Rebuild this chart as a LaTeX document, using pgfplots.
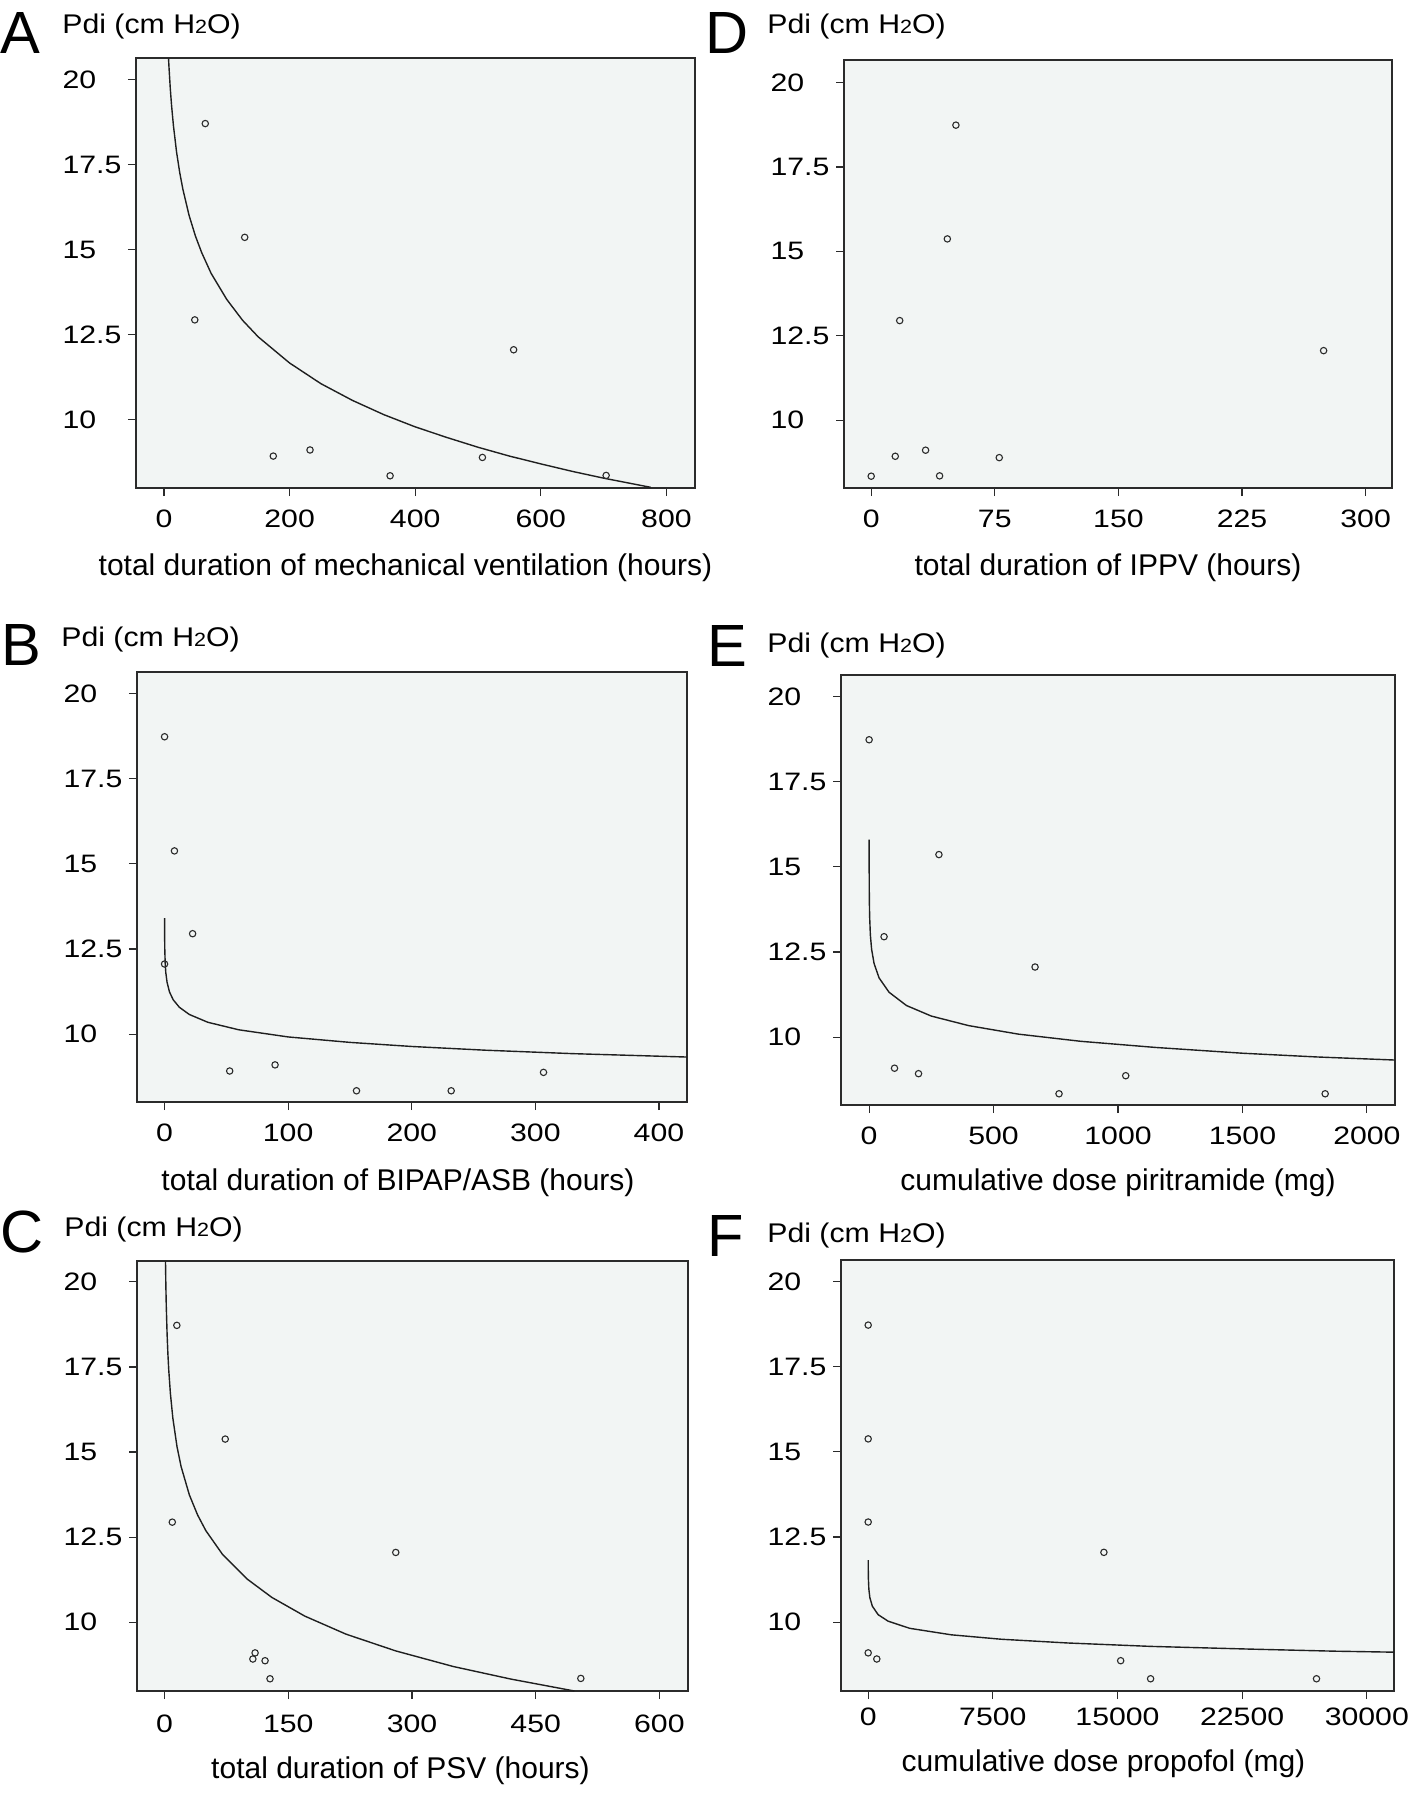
\documentclass[border=0pt]{standalone}
\usepackage{fontspec}
\setmainfont{Liberation Sans}
\newfontfamily\tickfont[FakeStretch=1.2]{Liberation Sans}
\newfontfamily\pdifont[FakeStretch=1.12]{Liberation Sans}
\usepackage{pgfplots}
\pgfplotsset{compat=1.18}
\definecolor{bgcol}{HTML}{F2F5F4}
\definecolor{axcol}{HTML}{2B2B2B}
\pgfplotsset{
 panel/.style={
  scale only axis,
  anchor=north west,
  axis background/.style={fill=bgcol},
  axis line style={draw=axcol, line width=0.8pt},
  tick style={draw=axcol, line width=0.6pt},
  tick align=outside,
  major tick length=4pt,
  tick pos=left,
  ytick={10,12.5,15,17.5,20},
  minor tick num=0,
  tick label style={font=\tickfont\fontsize{12.6}{14}\selectfont},
  /pgf/number format/assume math mode=true,
  /pgf/number format/1000 sep={},
  scaled x ticks=false,
  scaled y ticks=false,
  yticklabel style={anchor=west, inner sep=0pt, xshift=-32.9pt},
  xticklabel style={anchor=base, inner sep=0pt, yshift=-15.75pt},
  xlabel style={font=\fontsize{15}{18}\selectfont, at={(axis description cs:0.5,0)}, anchor=base, yshift=-42.5pt},
 },
 pts/.style={only marks, mark=o, mark size=1.6pt, mark options={draw=axcol, line width=0.55pt}},
 fit/.style={no marks, draw=black!88, line width=0.7pt}
}
\newcommand{\pdi}{Pdi (cm H{\fontsize{9.6}{10}\selectfont 2}O)}
\begin{document}
\begin{tikzpicture}
\useasboundingbox (0,0) rectangle (708.5pt,-897.5pt);
% ---------- A ----------
\begin{axis}[panel, at={(68pt,-29pt)}, width=279.5pt, height=215pt,
  xmin=-44.6, xmax=845.5, ymin=7.98, ymax=20.64, xtick={0,200,400,600,800},
  xlabel={total duration of mechanical ventilation (hours)}, xlabel style={xshift=-5pt, yshift=-1pt}]
\addplot[fit] coordinates {(7.2,20.63)(8,20.35)(10,19.74)(12,19.25)(15,18.65)(20,17.87)(25,17.27)(30,16.78)(40,16.00)(50,15.40)(60,14.91)(75,14.30)(100,13.53)(125,12.92)(150,12.43)(200,11.66)(250,11.05)(300,10.56)(350,10.14)(400,9.78)(450,9.47)(500,9.18)(550,8.92)(600,8.69)(650,8.47)(700,8.27)(750,8.09)(775,8.00)};
\addplot[pts] coordinates {(65.7,18.71)(128.5,15.36)(49,12.93)(556.7,12.05)(174,8.92)(232.5,9.10)(360,8.34)(507,8.88)(704,8.35)};
\end{axis}
% ---------- D ----------
\begin{axis}[panel, at={(422pt,-30pt)}, width=274pt, height=214pt,
  xmin=-16.5, xmax=316, ymin=7.99, ymax=20.67, xtick={0,75,150,225,300},
  xlabel={total duration of IPPV (hours)}, xlabel style={xshift=-5pt, yshift=-1pt}]
\addplot[pts] coordinates {(0,8.34)(14.6,8.93)(17.3,12.95)(33,9.11)(41.5,8.35)(46.2,15.37)(51.4,18.74)(77.7,8.89)(274.5,12.06)};
\end{axis}
% ---------- B ----------
\begin{axis}[panel, at={(68.5pt,-336pt)}, width=275pt, height=215pt,
  xmin=-22.3, xmax=422.7, ymin=8.01, ymax=20.63, xtick={0,100,200,300,400},
  xlabel={total duration of BIPAP/ASB (hours)}, xlabel style={xshift=-7pt, yshift=-1.5pt}]
\addplot[fit] coordinates {(0.02,13.41)(0.05,13.04)(0.1,12.75)(0.2,12.47)(0.5,12.09)(1,11.81)(2,11.53)(4,11.24)(7,11.01)(12,10.79)(20,10.58)(35,10.35)(60,10.13)(100,9.92)(150,9.76)(200,9.64)(260,9.53)(330,9.43)(422.7,9.33)};
\addplot[pts] coordinates {(0,18.73)(8,15.38)(22.7,12.95)(0,12.06)(52.7,8.92)(89.4,9.10)(155.3,8.34)(231.9,8.34)(306.6,8.88)};
\end{axis}
% ---------- E ----------
\begin{axis}[panel, at={(420.5pt,-337.5pt)}, width=277pt, height=215pt,
  xmin=-113, xmax=2113, ymin=8.01, ymax=20.63, xtick={0,500,1000,1500,2000},
  xlabel={cumulative dose piritramide (mg)}]
\addplot[fit] coordinates {(0.05,15.80)(0.1,15.38)(0.2,14.96)(0.5,14.40)(1,13.98)(2,13.56)(5,13.00)(10,12.58)(20,12.16)(40,11.74)(80,11.32)(150,10.93)(250,10.62)(400,10.34)(600,10.09)(850,9.88)(1150,9.70)(1500,9.53)(1800,9.42)(2113,9.33)};
\addplot[pts] coordinates {(0,18.73)(60,12.95)(280.5,15.36)(102,9.09)(198.5,8.93)(666.7,12.06)(763,8.34)(1031,8.87)(1832.4,8.34)};
\end{axis}
% ---------- C ----------
\begin{axis}[panel, at={(68.5pt,-630.5pt)}, width=275.5pt, height=215pt,
  xmin=-33.5, xmax=634.7, ymin=7.98, ymax=20.61, xtick={0,150,300,450,600},
  xticklabel style={yshift=-1pt},
  xlabel={total duration of PSV (hours)}, xlabel style={xshift=-6pt, yshift=-1pt}]
\addplot[fit] coordinates {(1.05,20.61)(1.5,19.88)(2,19.29)(3,18.46)(4,17.87)(5,17.41)(7,16.72)(10,15.99)(15,15.16)(20,14.57)(30,13.74)(40,13.15)(50,12.69)(70,12.00)(100,11.27)(130,10.73)(170,10.18)(220,9.65)(280,9.16)(350,8.70)(420,8.33)(497,7.98)};
\addplot[pts] coordinates {(14.8,18.72)(73.5,15.38)(9.3,12.94)(280.3,12.05)(109.7,9.10)(107,8.92)(121.8,8.87)(127.8,8.34)(504.7,8.35)};
\end{axis}
% ---------- F ----------
\begin{axis}[panel, at={(420.5pt,-630pt)}, width=276.5pt, height=215.5pt,
  xmin=-1636, xmax=31636, ymin=7.98, ymax=20.63, xtick={0,7500,15000,22500,30000},
  xticklabel style={yshift=2.5pt},
  xlabel={cumulative dose propofol (mg)}, xlabel style={xshift=-7pt, yshift=2.5pt}]
\addplot[fit] coordinates {(1.9,11.82)(5,11.55)(15,11.25)(40,10.97)(100,10.72)(250,10.47)(600,10.22)(1200,10.03)(2500,9.82)(5000,9.63)(8000,9.50)(12000,9.39)(17000,9.29)(23000,9.21)(28000,9.15)(31636,9.12)};
\addplot[pts] coordinates {(0,18.72)(0,15.38)(0,12.94)(14182,12.05)(0,9.10)(518,8.92)(15191,8.87)(16991,8.34)(26973,8.34)};
\end{axis}
% ---------- panel letters and y titles ----------
\begin{scope}[every node/.style={anchor=base west, inner sep=0pt}]
\node[font=\fontsize{29.8}{32}\selectfont] at (0pt,-26.5pt) {A};
\node[font=\fontsize{29.8}{32}\selectfont] at (352.6pt,-26.5pt) {D};
\node[font=\fontsize{29.8}{32}\selectfont] at (0.7pt,-332.5pt) {B};
\node[font=\fontsize{29.8}{32}\selectfont] at (353.6pt,-333pt) {E};
\node[font=\fontsize{29.8}{32}\selectfont] at (0pt,-626pt) {C};
\node[font=\fontsize{29.8}{32}\selectfont] at (353.6pt,-628pt) {F};
\node[font=\pdifont\fontsize{13.5}{16}\selectfont] at (31pt,-16.75pt) {\pdi};
\node[font=\pdifont\fontsize{13.5}{16}\selectfont] at (383.5pt,-16.75pt) {\pdi};
\node[font=\pdifont\fontsize{13.5}{16}\selectfont] at (30.5pt,-323.25pt) {\pdi};
\node[font=\pdifont\fontsize{13.5}{16}\selectfont] at (383.5pt,-326pt) {\pdi};
\node[font=\pdifont\fontsize{13.5}{16}\selectfont] at (32pt,-618pt) {\pdi};
\node[font=\pdifont\fontsize{13.5}{16}\selectfont] at (383.5pt,-621pt) {\pdi};
\end{scope}
\end{tikzpicture}
\end{document}
